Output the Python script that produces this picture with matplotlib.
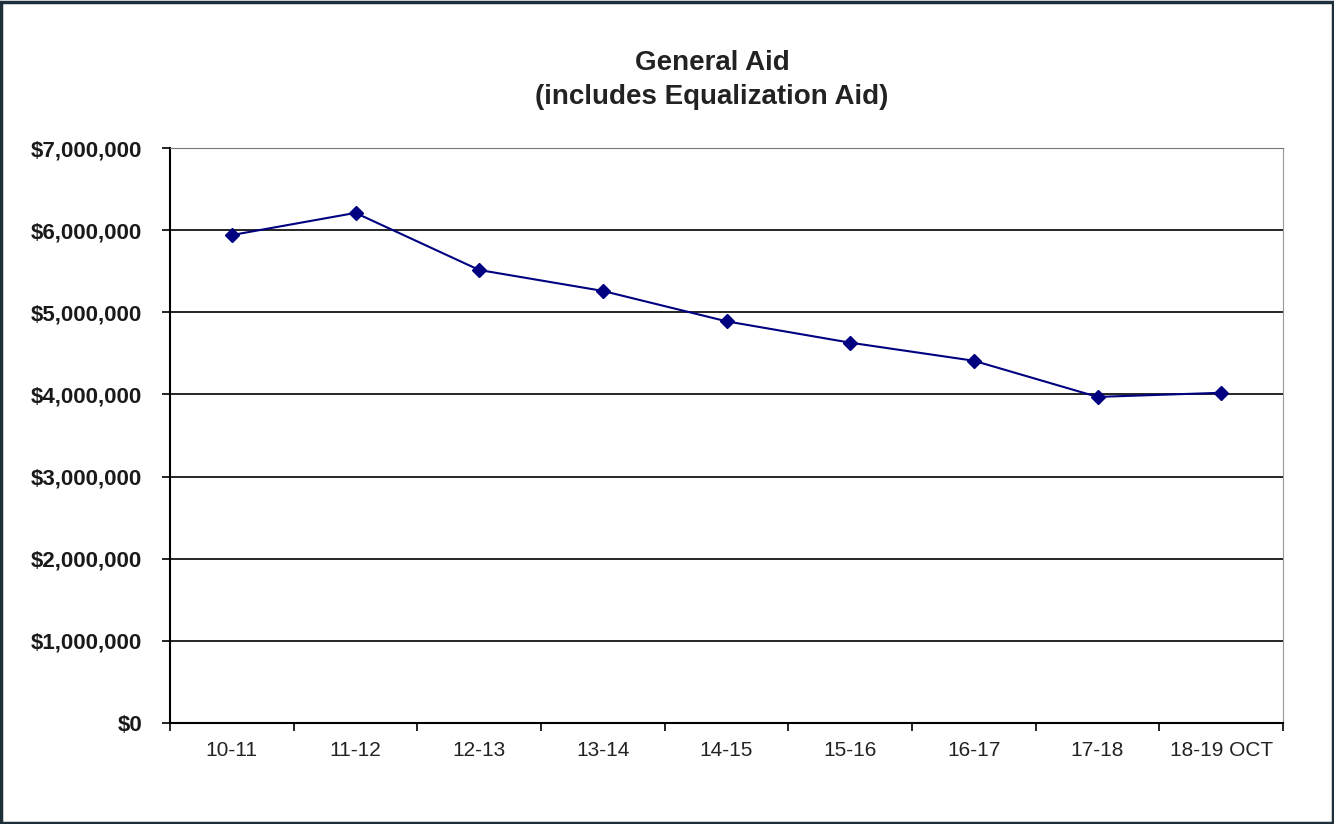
import matplotlib.pyplot as plt
import numpy as np
from matplotlib.ticker import FuncFormatter, FixedLocator, NullFormatter
from matplotlib.patches import Rectangle

plt.rcParams['font.family'] = ['Liberation Sans', 'DejaVu Sans']

# Datos
years = ['10-11', '11-12', '12-13', '13-14', '14-15', '15-16', '16-17', '17-18', '18-19 OCT']
general_aid = [5940000, 6210000, 5515000, 5260000, 4890000, 4630000, 4410000, 3970000, 4020000]

fig = plt.figure(figsize=(13.34, 8.24), dpi=100)
ax = fig.add_axes([170 / 1334, 1 - 723 / 824, 1113 / 1334, 575 / 824])

x = np.arange(len(years))
ax.plot(x, general_aid, color='#000080', linewidth=1.5, marker='D', markersize=7,
        markerfacecolor='#000080', markeredgecolor='#000080', zorder=3)

ax.set_xlim(-0.5, len(years) - 0.5)
ax.set_ylim(0, 7000000)
ax.set_yticks(np.arange(0, 7000001, 1000000))
ax.yaxis.set_major_formatter(FuncFormatter(lambda v, p: f'${v:,.0f}'))
ax.grid(axis='y', color='black', linewidth=1.2)
ax.set_axisbelow(True)

# ticks entre categorias, etiquetas en el centro
ax.xaxis.set_major_locator(FixedLocator(np.arange(-0.5, len(years), 1)))
ax.xaxis.set_major_formatter(NullFormatter())
ax.xaxis.set_minor_locator(FixedLocator(x))
ax.set_xticklabels(years, minor=True)
ax.tick_params(axis='x', which='minor', length=0, pad=13, labelsize=15, labelcolor='#222222')
ax.tick_params(axis='x', which='major', direction='out', length=6, width=1.2, color='black')
ax.tick_params(axis='y', direction='out', length=6, width=1.2, pad=14, labelsize=16, labelcolor='#1a1a1a')
for lbl in ax.get_yticklabels():
    lbl.set_fontweight('bold')

ax.spines['left'].set_color('black')
ax.spines['left'].set_linewidth(1.5)
ax.spines['bottom'].set_color('black')
ax.spines['bottom'].set_linewidth(1.5)
ax.spines['right'].set_color('#999999')
ax.spines['top'].set_color('#777777')

fig.text(712 / 1334, 1 - 80 / 824, 'General Aid\n(includes Equalization Aid)', ha='center', va='center',
         fontsize=20, fontweight='bold', color='#222222', linespacing=1.35)

# marco de la figura
fig.patches.append(Rectangle((0.001, 0.001), 0.998, 0.997, transform=fig.transFigure,
                             fill=False, edgecolor='#1f2f3a', linewidth=2.5))

fig.savefig('out.png', dpi=100)
